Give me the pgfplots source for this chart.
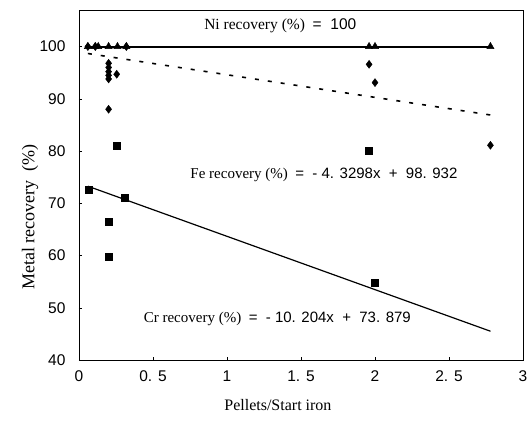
\documentclass[border=0pt]{standalone}
\usepackage{fontspec}
\setmainfont{Liberation Serif}
\newfontfamily\arial{Liberation Sans}
\usepackage{pgfplots}
\pgfplotsset{compat=1.18}
\begin{document}
\begin{tikzpicture}
\useasboundingbox (-79pt,-61pt) rectangle (450pt,360pt);
\begin{axis}[
  scale only axis, width=444pt, height=350pt,
  at={(0pt,0pt)}, anchor=south west,
  xmin=0, xmax=3, ymin=40, ymax=107,
  xtick={0,0.5,1,1.5,2,2.5,3},
  xticklabels={0,0. 5,1,1. 5,2,2. 5,3},
  ytick={40,50,60,70,80,90,100},
  yticklabels={40,50,60,70,80,90,100},
  tick align=inside, major tick length=3pt,
  xtick pos=bottom, ytick pos=left,
  axis line style={line width=0.6pt},
  tick style={line width=0.5pt, black},
  ticklabel style={font=\arial\fontsize{15.5}{18}\selectfont},
  /pgf/number format/assume math mode=true,
  yticklabel style={xshift=-10pt},
  xticklabel style={yshift=-7pt},
  xlabel={Pellets/Start iron},
  xlabel style={font=\fontsize{16}{19}\selectfont, at={(axis description cs:0.448,0)}, anchor=center, yshift=-45pt},
  ylabel={Metal recovery~~(\%)},
  ylabel style={font=\fontsize{18}{21}\selectfont, at={(axis description cs:-0.110,0.409)}, anchor=center, rotate=0},
  clip=false,
]
% trend lines
\addplot[black, line width=2pt] coordinates {(0.06,100) (2.78,100)};
\addplot[black, line width=1.6pt, dash pattern=on 4pt off 9pt] coordinates {(0.06,98.67) (2.78,86.90)};
\addplot[black, line width=1.2pt] coordinates {(0.06,73.27) (2.78,45.51)};
% Ni
\addplot[only marks, mark=triangle*, mark size=4.2pt, black] coordinates {
(0.06,100) (0.11,100) (0.13,100) (0.2,100) (0.26,100) (0.32,100) (1.96,100) (2.0,100) (2.78,100)};
% Fe
\addplot[only marks, mark=diamond*, mark size=4pt, black] coordinates {
(0.06,100) (0.11,100) (0.32,100)
(0.2,96.8) (0.2,96.0) (0.2,95.2) (0.2,94.5) (0.2,93.8) (0.2,88.0)
(0.255,94.7) (1.96,96.6) (2.0,93.1) (2.78,81.1)};
% Cr
\addplot[only marks, mark=square*, mark size=3.5pt, black] coordinates {
(0.063,72.6) (0.2,66.4) (0.2,59.8) (0.255,81.0) (0.31,71.0) (1.96,80.0) (2.0,54.8)};
\node[font=\fontsize{15.5}{18}\selectfont] at (axis cs:1.36,103.9) {Ni recovery (\%)~ {\arial = ~100}};
\node[font=\fontsize{15}{18}\selectfont] at (axis cs:1.655,75.5) {Fe recovery (\%)~ {\arial = ~- 4. 3298x ~+ ~98. 932}};
\node[font=\fontsize{15}{18}\selectfont] at (axis cs:1.34,47.9) {Cr recovery (\%)~ {\arial = ~- 10. 204x ~+ ~73. 879}};
\end{axis}
\end{tikzpicture}
\end{document}
